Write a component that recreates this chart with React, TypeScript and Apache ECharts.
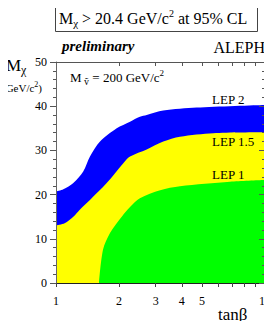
import React, { useEffect, useRef } from 'react';
import * as echarts from 'echarts';

// LEP 2 exclusion boundary (upper edge of blue)
const lep2TanBeta = [1, 1.084, 1.21, 1.35, 1.454, 1.624, 1.952, 2.26, 2.52, 2.716, 3.26, 4.71, 10];
const lep2Mass = [20.7, 21.2, 22.6, 25.2, 28.6, 32.0, 35.0, 36.5, 37.6, 38.0, 39.0, 39.7, 40.3];

// LEP 1.5 exclusion boundary (upper edge of yellow)
const lep15TanBeta = [1, 1.1, 1.21, 1.3, 1.454, 1.748, 2.099, 2.26, 2.716, 3.26, 3.92, 5.66, 10];
const lep15Mass = [13.0, 13.5, 15.0, 16.6, 18.8, 22.6, 27.1, 28.6, 30.2, 32.0, 33.1, 33.9, 34.1];

// LEP 1 exclusion boundary (upper edge of green)
const lep1TanBeta = [1.606, 1.678, 1.813, 2.063, 2.26, 2.52, 3.15, 3.92, 6.8, 10];
const lep1Mass = [0, 7.5, 11.3, 15.0, 17.2, 19.2, 21.0, 21.9, 22.9, 23.3];

const xLabelValues = [1, 2, 3, 4, 5, 10];
const xTickValues = [1, 2, 3, 4, 5, 6, 7, 8, 9, 10];
const xTopTickValues = [2, 3, 4, 5, 6, 7, 8, 9];

const F = "'Liberation Serif', 'DejaVu Serif', 'Times New Roman', serif";

const zip = (xs: number[], ys: number[]) => xs.map((x, i) => [x, ys[i]]);

export default function App() {
  const ref = useRef<HTMLDivElement>(null);
  useEffect(() => {
    if (!ref.current) return;
    const chart = echarts.init(ref.current, null, { renderer: 'svg' });
    const area = (name: string, data: number[][], color: string) => ({
      name,
      type: 'line',
      data,
      xAxisIndex: 0,
      yAxisIndex: 0,
      smooth: 0.3,
      showSymbol: false,
      symbol: 'none',
      lineStyle: { width: 0 },
      areaStyle: { color, opacity: 1 },
      z: 2,
    });
    const txt = (x: number, y: number, text: string, rich: any, align = 'left') => ({
      type: 'text',
      x,
      y,
      z: 100,
      style: {
        text,
        rich,
        align,
        textAlign: align,
        verticalAlign: 'middle',
        textVerticalAlign: 'middle',
        fill: '#000',
      },
    });
    chart.setOption({
      animation: false,
      grid: { left: 56, right: 7, top: 62, bottom: 46, containLabel: false, outerBoundsMode: 'none' },
      xAxis: [
        {
          type: 'log',
          logBase: 10,
          min: 1,
          max: 10,
          position: 'bottom',
          z: 10,
          axisLine: { show: true, onZero: false, lineStyle: { color: '#222', width: 1 } },
          axisTick: { show: true, inside: false, length: 4, customValues: xTickValues, lineStyle: { color: '#444' } },
          minorTick: { show: false },
          axisLabel: {
            show: true,
            customValues: xLabelValues,
            margin: 12,
            fontSize: 12,
            fontFamily: F,
            color: '#000',
            showMinLabel: true,
            showMaxLabel: true,
          },
          splitLine: { show: false },
        },
        {
          type: 'log',
          logBase: 10,
          min: 1,
          max: 10,
          position: 'top',
          z: 10,
          axisLine: { show: true, onZero: false, lineStyle: { color: '#555', width: 1 } },
          axisTick: { show: true, inside: true, length: 4, customValues: xTopTickValues, lineStyle: { color: '#555' } },
          axisLabel: { show: false },
          splitLine: { show: false },
        },
      ],
      yAxis: [
        {
          type: 'value',
          min: 0,
          max: 50,
          interval: 10,
          position: 'left',
          z: 10,
          axisLine: { show: true, onZero: false, lineStyle: { color: '#666', width: 1 } },
          axisTick: { show: true, inside: false, length: 6, lineStyle: { color: '#555' } },
          minorTick: { show: true, splitNumber: 5, length: 3, lineStyle: { color: '#555' } },
          axisLabel: { margin: 9, fontSize: 12, fontFamily: F, color: '#000' },
          splitLine: { show: false },
        },
        {
          type: 'value',
          min: 0,
          max: 50,
          interval: 10,
          position: 'right',
          z: 10,
          axisLine: { show: true, onZero: false, lineStyle: { color: '#666', width: 1 } },
          axisTick: { show: true, inside: true, length: 6, lineStyle: { color: '#555' } },
          minorTick: { show: true, splitNumber: 5, length: 3, lineStyle: { color: '#555' } },
          axisLabel: { show: false },
          splitLine: { show: false },
        },
      ],
      series: [
        area('LEP 2', zip(lep2TanBeta, lep2Mass), '#0000ff'),
        area('LEP 1.5', zip(lep15TanBeta, lep15Mass), '#ffff00'),
        area('LEP 1', zip(lep1TanBeta, lep1Mass), '#00ff00'),
      ],
      graphic: [
        {
          type: 'rect',
          shape: { x: 55.5, y: 2.5, width: 202, height: 29 },
          style: { stroke: '#444', fill: '#fff', lineWidth: 1 },
          z: 99,
        },
        txt(59, 18.6, '{m|M}{sub|χ}{m| > 20.4 GeV/c}{sup|2}{m| at 95% CL}', {
          m: { fontSize: 16, fontFamily: F, fill: '#000' },
          sub: { fontSize: 11, fontFamily: F, fill: '#000', padding: [8, 0, 0, 0] },
          sup: { fontSize: 10, fontFamily: F, fill: '#000', padding: [0, 0, 10, 0] },
        }),
        txt(62, 46, '{p|preliminary}', {
          p: { fontSize: 15, fontFamily: F, fontWeight: 'bold', fontStyle: 'italic', fill: '#000' },
        }),
        txt(265, 47, '{a|ALEPH}', { a: { fontSize: 16, fontFamily: F, fill: '#000' } }, 'right'),
        txt(6, 65.3, '{m|M}{sub|χ}', {
          m: { fontSize: 17, fontFamily: F, fill: '#000' },
          sub: { fontSize: 12, fontFamily: F, fill: '#000', padding: [9, 0, 0, 0] },
        }),
        txt(42, 88, '{m|(GeV/c}{sup|2}{m|)}', {
          m: { fontSize: 11, fontFamily: F, fill: '#000' },
          sup: { fontSize: 8, fontFamily: F, fill: '#000', padding: [0, 0, 7, 0] },
        }, 'right'),
        txt(70, 77, '{m|M}{sub| ṽ}{m| = 200 GeV/c}{sup|2}', {
          m: { fontSize: 13, fontFamily: F, fill: '#000' },
          sub: { fontSize: 10, fontFamily: F, fill: '#000', padding: [8, 0, 0, 0] },
          sup: { fontSize: 9, fontFamily: F, fill: '#000', padding: [0, 0, 9, 0] },
        }),
        txt(212, 99.6, '{a|LEP 2}', { a: { fontSize: 13, fontFamily: F, fill: '#000' } }),
        txt(212, 141.6, '{a|LEP 1.5}', { a: { fontSize: 13, fontFamily: F, fill: '#000' } }),
        txt(212, 174.6, '{a|LEP 1}', { a: { fontSize: 13, fontFamily: F, fill: '#000' } }),
        txt(218, 314, '{a|tanβ}', { a: { fontSize: 17, fontFamily: F, fill: '#000' } }),
      ],
    });
    return () => chart.dispose();
  }, []);
  return <div ref={ref} style={{ width: 272, height: 329, margin: -8 }} />;
}
